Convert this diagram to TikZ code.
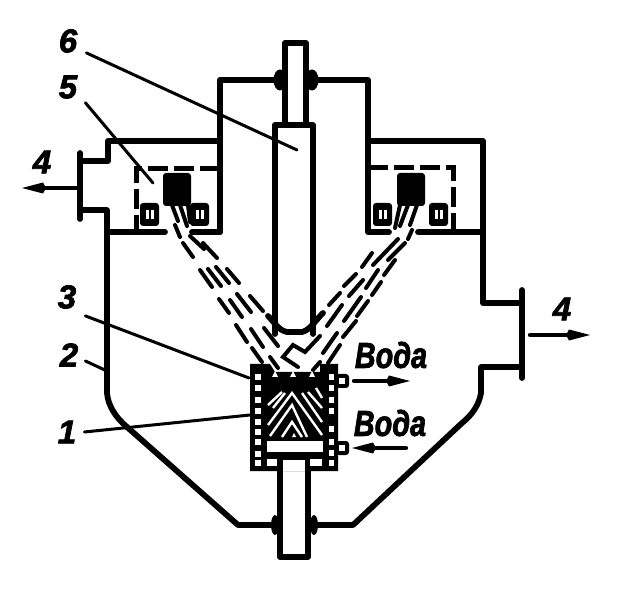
\documentclass[tikz,border=0pt]{standalone}
\usepackage{fontspec}
\setmainfont{Liberation Sans}[BoldItalicFeatures={FakeBold=2.2}]
\usetikzlibrary{arrows.meta}
\tikzset{
    wall/.style={line width=5.8pt, line join=round, line cap=round},
    leader/.style={line width=3pt, line cap=round},
    ray/.style={line width=4pt, line cap=round},
    flow/.style={line width=4.2pt, line cap=round, -{Kite[length=24pt,width=11pt,inset=3pt]}},
    num/.style={font=\bfseries\itshape\fontsize{33}{33}\selectfont, inner sep=4pt},
    water/.style={font=\bfseries\itshape\fontsize{36}{36}\selectfont, xscale=.8, inner sep=0pt},
    stripe/.style={white, line width=2.4pt},
}
\begin{document}
\begin{tikzpicture}[x=1pt, y=-1pt]
    \useasboundingbox (0,0) rectangle (625,615);
    % labels
    \node[num] (n6) at (68,41) {6};
    \node[num] (n5) at (68,87) {5};
    \node[num] (n4l) at (42,162) {4};
    \node[num] (n4r) at (562,309) {4};
    \node[num] (n3) at (67,297) {3};
    \node[num] (n2) at (69,355) {2};
    \node[num] (n1) at (67,432) {1};
    \node[water] (w1) at (391,355) {Вода};
    \node[water] (w2) at (390,423) {Вода};
    % housing
    \draw[wall] (80,153)--(80,219);
    \draw[wall] (80,161)--(108,161)--(108,141)--(220,141);
    \draw[wall] (80,210)--(107,210)--(107,393) .. controls (108,405) and (115,417) .. (127,427)--(238,525)--(272,525);
    \draw[wall] (220,232)--(220,80)--(276,80);
    \draw[wall] (107,232)--(165,232);
    \draw[wall] (192,232)--(220,232);
    \draw[wall] (314,80)--(368,80)--(368,232)--(389,232);
    \draw[wall] (418,232)--(483,232);
    \draw[wall] (368,141)--(483,141)--(483,303)--(522,303);
    \draw[wall] (522,290)--(522,378);
    \draw[wall] (522,367)--(481,367)--(481,393) .. controls (479,405) and (472,415) .. (462,423)--(353,525)--(316,525);
    % top rod and electrode
    \draw[wall] (285,124)--(285,43)--(306,43)--(306,124);
    \draw[wall] (275,334)--(275,125)--(313,125)--(313,334);
    \draw[wall] (268,316) .. controls (276,324) and (278,330) .. (287,332)--(302,332) .. controls (310,330) and (314,322) .. (323,313);
    \foreach \X in {280,312}{
        \fill (\X,80) ellipse (6.5 and 10.5);
    }
    % bottom rod
    \draw[wall] (280,465)--(280,557)--(308,557)--(308,465);
    \foreach \X in {275,314}{
        \fill (\X,525) ellipse (4 and 10);
    }
    % screens
    \draw[line width=5pt, dash pattern=on 20pt off 6pt] (220,169)--(136,169)--(136,232);
    \draw[line width=5pt, dash pattern=on 20pt off 6pt] (368,168)--(453,168)--(453,232);
    % sources
    \foreach \X in {163,397}{
        \fill[rounded corners=3pt] (\X,173) rectangle ++(28,33);
    }
    \foreach \X in {140,190,373,429}{
        \fill[rounded corners=3pt] (\X,203) rectangle ++(19,23);
        \fill[white] (\X+6,210) rectangle ++(3,9);
        \fill[white] (\X+11,210) rectangle ++(3,9);
    }
    % beams
    \foreach \A/\B/\C/\D in {172/205/178/221, 180/205/187/226, 188/205/190/222,
        175/225/180/237, 183/243/193/257, 190/236/204/249, 203/243/217/258,
        200/270/212/287, 208/269/221/286, 216/267/229/283, 227/269/239/283,
        219/299/229/313, 230/300/242/317, 237/294/251/312, 250/296/263/311,
        236/325/247/342, 251/329/263/347, 264/328/278/346,
        252/348/262/362, 270/357/278/368,
        400/205/395/228, 408/205/400/226, 417/205/410/225, 412/230/408/239,
        398/239/373/265, 405/243/388/260, 395/260/384/275, 372/253/362/267,
        378/270/366/288, 381/282/372/295, 356/274/344/286, 363/280/349/296,
        340/293/329/305, 361/297/344/321, 368/301/357/316, 342/305/327/326,
        356/321/343/337, 337/333/323/353, 340/345/328/363, 320/362/313/370}{
        \draw[ray] (\A,\B)--(\C,\D);
    }
    \draw[ray, line join=miter] (320,336)--(305,352)--(293,345)--(283,357)--(298,367);
    % crucible
    \fill (250,364)--(270,364)--(275,372)--(320,372)--(320,364)--(338,364)--(338,471)--(250,471)--cycle;
    \foreach \Y in {377,388,400,411,422,432,442,454,463}{
        \fill[white] (255,\Y-3) rectangle ++(6,6);
    }
    \foreach \Y in {377,388,400,411,429,442,453,463}{
        \fill[white] (329,\Y-3) rectangle ++(5,6);
    }
    \foreach \X in {275,293,312}{
        \fill[white] (\X-3,377)--(\X+3,377)--(\X,371)--cycle;
    }
    \fill[white] (267,441) rectangle (323,452);
    \fill[white] (267,459) rectangle (277,466);
    \fill[white] (310,459) rectangle (322,466);
    \fill[white] (283,460) rectangle (305,471);
    \draw[stripe] (268,425)--(292,393)--(322,435);
    \draw[stripe] (270,436)--(292,405)--(307,437);
    \draw[stripe] (282,437)--(292,422)--(302,437);
    \draw[stripe] (268,405)--(282,392);
    \draw[stripe] (273,408)--(285,393);
    \draw[stripe] (302,393)--(322,422);
    \draw[stripe] (308,392)--(322,408);
    \draw[stripe] (316,388)--(322,398);
    \fill[white] (292,437)--(296,437)--(294,433)--cycle;
    % water pipes
    \foreach \Y in {381,448}{
        \fill[rounded corners=3pt] (336,\Y-7) rectangle (349,\Y+7);
        \fill[white] (339,\Y-3) rectangle (345,\Y+3);
    }
    % leaders
    \coordinate (t6) at (297,150);
    \coordinate (t5) at (153,183);
    \coordinate (t3) at (249,378);
    \coordinate (t2) at (107,371);
    \coordinate (t1) at (250,415);
    \draw[leader] ([xshift=5pt,yshift=4pt]n6.south east)--(t6);
    \draw[leader] ([xshift=4pt]n5.south east)--(t5);
    \draw[leader] ([xshift=5pt,yshift=-3pt]n3.south east)--(t3);
    \draw[leader] ([xshift=3pt,yshift=-6pt]n2.east)--(t2);
    \draw[leader] ([xshift=4pt]n1.east)--(t1);
    % flows
    \coordinate (a1) at (78,188);
    \coordinate (b1) at (22,188);
    \coordinate (a2) at (530,335);
    \coordinate (b2) at (590,335);
    \coordinate (a3) at (354,381);
    \coordinate (b3) at (410,381);
    \coordinate (a4) at (406,448);
    \coordinate (b4) at (352,448);
    \draw[flow] (a1)--(b1);
    \draw[flow] (a2)--(b2);
    \draw[flow] (a3)--(b3);
    \draw[flow] (a4)--(b4);
\end{tikzpicture}
\end{document}
